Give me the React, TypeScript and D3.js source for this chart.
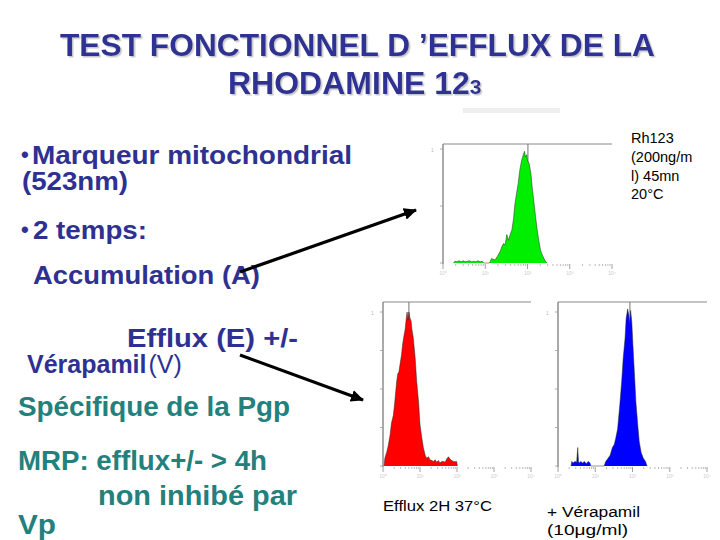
import React from "react";
import * as d3 from "d3";

const FONT = "'Liberation Sans', Arial, Helvetica, sans-serif";
const NAVY = "#2e3192";
const TEAL = "#23807c";

// Histogram data: x = log10 fluorescence (decades), y = relative cell count
const greenLog = [0.25,0.28,0.33,0.38,0.43,0.48,0.53,0.58,0.63,0.68,0.73,0.78,0.83,0.88,0.93,0.96,
  1.10,1.15,1.23,1.29,1.35,1.39,1.43,1.47,1.51,1.55,1.59,1.63,1.67,1.70,1.74,1.78,1.82,1.86,1.90,1.93,
  1.95,1.98,2.00,2.04,2.08,2.11,2.15,2.19,2.23,2.27,2.31,2.35,2.39,2.43,2.47];
const greenCounts = [0,1.5,1,2,1,2,1,1.5,2,1,1.5,1,2,1,1.5,0,
  0,4,2.6,6,10,14,17,16,25,20,25,29,39,51,61,70,82,90,95,98,
  93,95,90,87,79,67,54,41,29,19,11,7,4,1,0];

const redLog = [0.03,0.05,0.10,0.14,0.19,0.23,0.28,0.32,0.37,0.40,0.43,0.46,0.50,0.53,0.57,0.60,0.62,0.65,0.68,0.70,
  0.73,0.76,0.78,0.82,0.87,0.91,0.96,1.00,1.05,1.09,1.14,1.18,1.23,1.27,1.32,1.36,1.41,1.45,1.50,1.54,
  1.59,1.63,1.68,1.72,1.77,1.81,1.86,1.90,1.95,1.99,2.01];
const redCounts = [0,5,9,13,20,28,33,42,55,60,61,66,72,79,85,89,94,100,95,100,
  96,94,89,83,70,55,42,27,18,12,7,5,6,4,3.5,3,4,2.5,3.5,2,
  3,3,2.5,4.5,6,4.5,3.5,3,2.8,3,0];

const blueLog = [0.35,0.37,0.41,0.45,0.50,0.53,0.55,0.57,0.61,0.66,0.71,0.76,0.81,0.86,0.88,
  1.24,1.28,1.33,1.40,1.46,1.51,1.55,1.60,1.66,1.71,1.75,1.80,1.83,1.87,1.90,1.92,1.95,1.98,2.01,2.05,
  2.09,2.14,2.18,2.23,2.29,2.35,2.39];
const blueCounts = [0,3,2,3,2.5,12,3,2,3,2,3,1.5,3,2,0,
  0,3,4.5,7,12,14,18,24,40,55,70,83,96,102,98,92,101,94,79,61,
  42,27,16,9,5,3,0];

const decades = [0, 1, 2, 3, 4];
const decadeLabels = ["10⁰", "10¹", "10²", "10³", "10⁴"];
const countTicks = [0, 25, 50, 75, 100];

const titleLine1 = "TEST FONCTIONNEL D ’EFFLUX DE LA";
const titleLine2 = "RHODAMINE 12";
const titleSup = "3";

type Panel = {
  logs: number[];
  counts: number[];
  fill: string;
  x0: number; x1: number; yTop: number; yBase: number; yMax: number;
  marker: number;
  yTicks: number[];
};

const panels: Panel[] = [
  { logs: greenLog, counts: greenCounts, fill: "#00ee00", x0: 443, x1: 612, yTop: 144, yBase: 263, yMax: 149, marker: 2.01, yTicks: [0, 50, 100] },
  { logs: redLog, counts: redCounts, fill: "#ff0000", x0: 383, x1: 531, yTop: 302, yBase: 466, yMax: 312, marker: 0.70, yTicks: countTicks },
  { logs: blueLog, counts: blueCounts, fill: "#0000ff", x0: 558, x1: 707, yTop: 302, yBase: 466, yMax: 312, marker: 1.93, yTicks: countTicks },
];

function Histogram({ p }: { p: Panel }) {
  const x = d3.scaleLinear().domain([0, 4]).range([p.x0, p.x1]);
  const y = d3.scaleLinear().domain([0, 100]).range([p.yBase, p.yMax]);
  const pts = p.logs.map((l, i) => [l, p.counts[i]] as [number, number]);
  const area = d3.area<[number, number]>().x(d => x(d[0])).y0(y(0)).y1(d => y(d[1]));
  const line = d3.line<[number, number]>().x(d => x(d[0])).y(d => y(d[1]));
  const minor: { v: number; major: boolean }[] = [];
  for (let d = 0; d < 4; d++) {
    for (let k = 1; k < 10; k++) minor.push({ v: d + Math.log10(k), major: k === 1 });
  }
  minor.push({ v: 4, major: true });
  return (
    <g>
      <line x1={p.x0} x2={p.x0} y1={p.yTop} y2={p.yBase + 1} stroke="#555" strokeWidth={1} />
      <line x1={p.x0} x2={p.x1} y1={p.yTop} y2={p.yTop} stroke="#888" strokeWidth={1} />
      <line x1={x(p.marker)} x2={x(p.marker)} y1={p.yTop} y2={p.yBase} stroke="#777" strokeWidth={1} />
      {p.yTicks.map((t, i) => (
        <line key={"yt" + i} x1={p.x0 - 3} x2={p.x0} y1={y(t)} y2={y(t)} stroke="#999" strokeWidth={0.8} />
      ))}
      <text x={p.x0 - 12} y={y(100) + 3} fontSize={5} fill="#bbb" fontFamily={FONT}>1</text>
      {minor.map((m, i) => (
        <line key={"xt" + i} x1={x(m.v)} x2={x(m.v)} y1={p.yBase + 1} y2={p.yBase + (m.major ? 6 : 3)}
          stroke={m.major ? "#888" : "#aaa"} strokeWidth={0.8} />
      ))}
      {decades.map((d, i) => (
        <text key={"dl" + i} x={x(d)} y={p.yBase + 12} fontSize={5} fill="#ccc" textAnchor="middle" fontFamily={FONT}>
          {decadeLabels[i]}
        </text>
      ))}
      <path d={area(pts) || ""} fill={p.fill} />
      <path d={line(pts) || ""} fill="none" stroke="#222" strokeWidth={0.6} strokeOpacity={0.8} />
    </g>
  );
}

export default function App() {
  return (
    <svg width={720} height={540} style={{ position: "fixed", left: 0, top: 0, background: "#fff" }}
      fontFamily={FONT}>
      <defs>
        <marker id="ah" markerUnits="userSpaceOnUse" markerWidth={14} markerHeight={12} refX={12} refY={6} orient="auto">
          <path d="M0,0 L13,6 L0,12 Z" fill="#000" />
        </marker>
        <filter id="shadow" x="-5%" y="-20%" width="110%" height="150%">
          <feDropShadow dx={1.5} dy={1.5} stdDeviation={0.4} floodColor="#b8b8c0" floodOpacity={0.8} />
        </filter>
      </defs>
      <rect x={0} y={0} width={720} height={540} fill="#fff" />

      {/* Title with shadow */}
      <g fontWeight="bold" fontSize={32} fill={NAVY} filter="url(#shadow)">
        <text x={60} y={56} textLength={595} lengthAdjust="spacingAndGlyphs">{titleLine1}</text>
        <text x={228} y={94}>{titleLine2}<tspan fontSize={21}>{titleSup}</tspan></text>
      </g>
      <rect x={463} y={108} width={97} height={5} fill="#eeeeee" />

      {/* Left bullet text */}
      <g fontWeight="bold" fontSize={26} fill={NAVY}>
        <text x={21} y={162} fontSize={22}>•</text>
        <text x={32} y={164} textLength={320} lengthAdjust="spacingAndGlyphs">Marqueur mitochondrial</text>
        <text x={22} y={190} textLength={106} lengthAdjust="spacingAndGlyphs">(523nm)</text>
        <text x={21} y={237} fontSize={22}>•</text>
        <text x={33} y={239} textLength={114} lengthAdjust="spacingAndGlyphs">2 temps:</text>
        <text x={33} y={284} textLength={227} lengthAdjust="spacingAndGlyphs">Accumulation (A)</text>
        <text x={127} y={347} textLength={171} lengthAdjust="spacingAndGlyphs">Efflux (E)  +/-</text>
        <text x={27} y={373} fontSize={25}>Vérapamil<tspan fontWeight="normal" dx={2}>(V)</tspan></text>
      </g>
      <g fontWeight="bold" fontSize={27} fill={TEAL}>
        <text x={18} y={416} textLength={272} lengthAdjust="spacingAndGlyphs">Spécifique de la Pgp</text>
        <text x={18} y={470} textLength={249} lengthAdjust="spacingAndGlyphs">MRP: efflux+/- &gt; 4h</text>
        <text x={98} y={505} textLength={199} lengthAdjust="spacingAndGlyphs">non  inhibé par</text>
        <text x={18} y={534} textLength={38} lengthAdjust="spacingAndGlyphs">Vp</text>
      </g>

      {/* Arrows */}
      <line x1={240} y1={272} x2={416} y2={210} stroke="#000" strokeWidth={3.2} markerEnd="url(#ah)" />
      <line x1={240} y1={355} x2={363} y2={400} stroke="#000" strokeWidth={3.2} markerEnd="url(#ah)" />

      {/* Histograms */}
      {panels.map((p, i) => <Histogram key={i} p={p} />)}

      {/* Right & bottom labels */}
      <g fontSize={14.5} fill="#000">
        <text x={631} y={143}>Rh123</text>
        <text x={631} y={162}>(200ng/m</text>
        <text x={631} y={181}>l) 45mn</text>
        <text x={631} y={199}>20°C</text>
      </g>
      <g fontSize={15.5} fill="#000">
        <text x={383} y={511} textLength={109} lengthAdjust="spacingAndGlyphs">Efflux 2H 37°C</text>
        <text x={547} y={517} textLength={93} lengthAdjust="spacingAndGlyphs">+ Vérapamil</text>
        <text x={547} y={535} textLength={81} lengthAdjust="spacingAndGlyphs">(10μg/ml)</text>
      </g>
    </svg>
  );
}
